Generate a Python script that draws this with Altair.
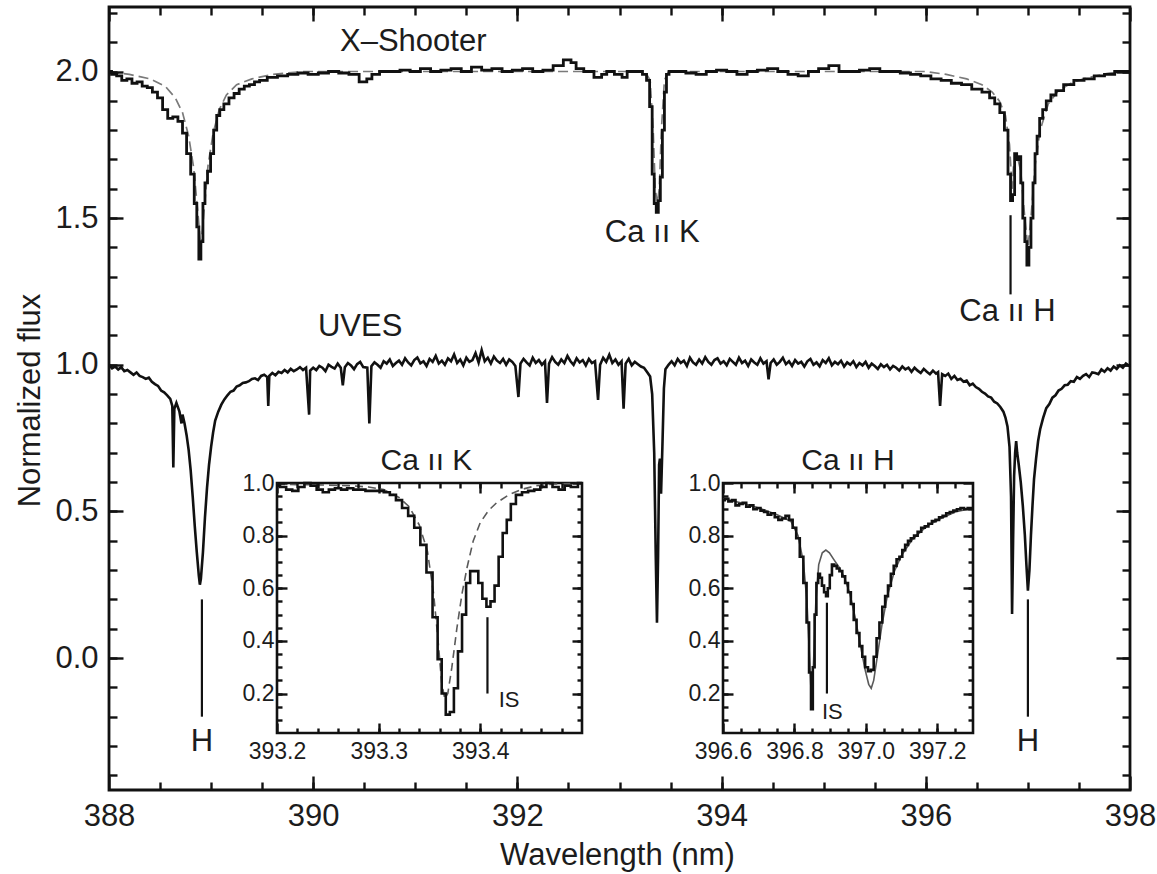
import altair as alt
import pandas as pd

FONT = "Liberation Sans"
INK = "#111111"

# ---------------- spectra (wavelength nm, normalized flux as plotted) ----------------
XSHOOTER = [
    (388.00, 2.00), (388.05, 1.99), (388.10, 1.985), (388.15, 1.97), (388.20, 1.975),
    (388.25, 1.96), (388.30, 1.965), (388.35, 1.95), (388.40, 1.945), (388.45, 1.93),
    (388.50, 1.91), (388.55, 1.87), (388.60, 1.84), (388.65, 1.845), (388.70, 1.83),
    (388.74, 1.79), (388.78, 1.72), (388.82, 1.65), (388.85, 1.55), (388.87, 1.47),
    (388.89, 1.36), (388.91, 1.42), (388.93, 1.55), (388.95, 1.62), (388.98, 1.66),
    (389.01, 1.72), (389.04, 1.80), (389.07, 1.85), (389.10, 1.87), (389.15, 1.89),
    (389.20, 1.91), (389.25, 1.925), (389.30, 1.94), (389.35, 1.95), (389.40, 1.955),
    (389.45, 1.965), (389.50, 1.97), (389.60, 1.98), (389.70, 1.985), (389.80, 1.99),
    (389.90, 1.995), (390.00, 1.99), (390.10, 1.995), (390.20, 2.00), (390.30, 1.995),
    (390.40, 1.99), (390.50, 1.965), (390.55, 1.975), (390.60, 1.99), (390.70, 2.00),
    (390.80, 2.00), (390.90, 2.005), (391.00, 2.00), (391.10, 2.01), (391.20, 2.00),
    (391.30, 2.005), (391.40, 2.01), (391.50, 2.00), (391.60, 2.015), (391.70, 2.005),
    (391.80, 2.01), (391.90, 2.00), (392.00, 2.005), (392.10, 2.01), (392.20, 2.00),
    (392.30, 2.005), (392.40, 2.02), (392.50, 2.04), (392.55, 2.03), (392.60, 2.01),
    (392.70, 2.00), (392.80, 1.98), (392.85, 1.99), (392.90, 2.00), (393.00, 1.99),
    (393.05, 1.98), (393.10, 2.00), (393.15, 2.00), (393.20, 2.00), (393.25, 1.99),
    (393.28, 1.97), (393.31, 1.88), (393.33, 1.65), (393.35, 1.55), (393.37, 1.52),
    (393.39, 1.56), (393.41, 1.64), (393.43, 1.80), (393.45, 1.93), (393.47, 1.99),
    (393.50, 2.00), (393.60, 2.00), (393.70, 1.995), (393.80, 1.99), (393.90, 2.00),
    (394.00, 2.005), (394.10, 2.00), (394.20, 1.99), (394.30, 2.00), (394.40, 2.005),
    (394.50, 2.01), (394.60, 2.00), (394.70, 1.99), (394.80, 1.985), (394.90, 2.00),
    (395.00, 2.01), (395.10, 2.02), (395.20, 2.00), (395.30, 2.00), (395.40, 2.005),
    (395.50, 2.01), (395.60, 2.00), (395.70, 2.00), (395.80, 1.995), (395.90, 1.99),
    (396.00, 1.985), (396.10, 1.975), (396.20, 1.97), (396.30, 1.96), (396.40, 1.955),
    (396.50, 1.94), (396.60, 1.93), (396.65, 1.91), (396.70, 1.89), (396.75, 1.86),
    (396.79, 1.80), (396.82, 1.65), (396.84, 1.56), (396.86, 1.58), (396.88, 1.72),
    (396.90, 1.70), (396.92, 1.71), (396.94, 1.62), (396.96, 1.50), (396.98, 1.42),
    (397.00, 1.34), (397.02, 1.40), (397.04, 1.50), (397.06, 1.62), (397.08, 1.72),
    (397.10, 1.78), (397.13, 1.84), (397.16, 1.87), (397.20, 1.90), (397.25, 1.92),
    (397.30, 1.935), (397.40, 1.955), (397.50, 1.97), (397.60, 1.975), (397.70, 1.985),
    (397.80, 1.99), (397.90, 2.00), (398.00, 2.00),
]

XSHOOTER_MODEL = [
    (388.00, 2.00), (388.20, 1.99), (388.40, 1.975), (388.55, 1.95), (388.65, 1.91),
    (388.72, 1.86), (388.78, 1.78), (388.83, 1.67), (388.87, 1.52), (388.90, 1.40),
    (388.93, 1.52), (388.97, 1.68), (389.02, 1.79), (389.08, 1.87), (389.15, 1.92),
    (389.25, 1.955), (389.40, 1.975), (389.60, 1.99), (389.90, 2.00), (393.25, 2.00),
    (393.30, 1.97), (393.33, 1.80), (393.35, 1.60), (393.37, 1.55), (393.39, 1.60),
    (393.41, 1.80), (393.44, 1.97), (393.48, 2.00), (396.00, 2.00), (396.20, 1.99),
    (396.40, 1.975), (396.55, 1.955), (396.65, 1.93), (396.72, 1.90), (396.78, 1.85),
    (396.82, 1.75), (396.845, 1.60), (396.86, 1.68), (396.89, 1.72), (396.93, 1.66),
    (396.97, 1.50), (397.00, 1.40), (397.03, 1.50), (397.07, 1.68), (397.12, 1.80),
    (397.20, 1.89), (397.30, 1.935), (397.45, 1.965), (397.60, 1.98), (397.80, 1.995),
    (398.00, 2.00),
]

UVES = [
    (388.00, 1.00), (388.03, 0.988), (388.06, 0.994), (388.09, 0.984), (388.12, 0.992),
    (388.15, 0.978), (388.18, 0.982), (388.21, 0.974), (388.24, 0.966), (388.27, 0.974),
    (388.30, 0.962), (388.33, 0.958), (388.36, 0.952), (388.39, 0.956), (388.42, 0.942),
    (388.45, 0.934), (388.48, 0.928), (388.51, 0.912), (388.54, 0.906), (388.57, 0.896),
    (388.60, 0.884), (388.62, 0.86), (388.63, 0.65), (388.64, 0.85), (388.66, 0.87),
    (388.69, 0.84), (388.71, 0.80), (388.72, 0.83), (388.74, 0.80), (388.76, 0.76),
    (388.78, 0.71), (388.80, 0.64), (388.82, 0.55), (388.84, 0.45), (388.86, 0.36),
    (388.88, 0.28), (388.89, 0.25), (388.90, 0.27), (388.92, 0.36), (388.94, 0.48),
    (388.96, 0.58), (388.98, 0.66), (389.00, 0.72), (389.02, 0.77), (389.04, 0.81),
    (389.07, 0.84), (389.10, 0.864), (389.13, 0.882), (389.16, 0.896), (389.19, 0.908),
    (389.22, 0.912), (389.25, 0.926), (389.28, 0.93), (389.31, 0.938), (389.34, 0.94),
    (389.37, 0.944), (389.40, 0.952), (389.43, 0.954), (389.46, 0.948), (389.49, 0.962),
    (389.52, 0.966), (389.55, 0.958), (389.56, 0.86), (389.57, 0.962), (389.60, 0.972),
    (389.63, 0.964), (389.66, 0.976), (389.69, 0.972), (389.72, 0.982), (389.75, 0.974),
    (389.78, 0.986), (389.81, 0.978), (389.84, 0.984), (389.87, 0.992), (389.90, 0.982),
    (389.93, 0.99), (389.96, 0.83), (389.97, 0.98), (390.00, 0.99), (390.03, 0.982),
    (390.06, 0.996), (390.09, 0.99), (390.12, 0.978), (390.15, 1.00), (390.18, 0.993),
    (390.21, 0.987), (390.24, 1.004), (390.27, 0.99), (390.29, 0.93), (390.31, 0.992),
    (390.34, 1.006), (390.37, 0.998), (390.40, 0.985), (390.43, 1.002), (390.46, 1.01),
    (390.49, 0.992), (390.53, 0.99), (390.55, 0.80), (390.57, 0.995), (390.60, 1.008),
    (390.63, 1.00), (390.66, 0.99), (390.69, 1.012), (390.72, 1.004), (390.75, 1.018),
    (390.78, 0.996), (390.81, 1.006), (390.84, 1.014), (390.87, 1.00), (390.90, 1.022),
    (390.93, 1.008), (390.96, 0.998), (390.99, 1.016), (391.02, 1.025), (391.05, 1.005),
    (391.08, 1.012), (391.11, 0.996), (391.14, 1.02), (391.17, 1.01), (391.20, 1.03),
    (391.23, 1.004), (391.26, 1.014), (391.29, 1.00), (391.32, 1.022), (391.35, 1.012),
    (391.38, 1.035), (391.41, 1.006), (391.44, 1.018), (391.47, 0.998), (391.50, 1.024),
    (391.53, 1.01), (391.56, 1.016), (391.59, 1.04), (391.62, 1.008), (391.65, 1.05),
    (391.68, 1.012), (391.71, 1.024), (391.74, 1.004), (391.77, 1.028), (391.80, 1.014),
    (391.83, 1.006), (391.86, 1.02), (391.89, 1.00), (391.92, 1.018), (391.95, 1.01),
    (391.98, 0.996), (392.01, 0.89), (392.03, 1.004), (392.06, 1.02), (392.09, 1.008),
    (392.12, 0.998), (392.15, 1.024), (392.18, 1.006), (392.21, 1.016), (392.24, 1.00),
    (392.27, 1.012), (392.29, 0.87), (392.31, 1.004), (392.34, 1.026), (392.37, 1.01),
    (392.40, 1.00), (392.43, 1.018), (392.46, 1.006), (392.49, 1.03), (392.52, 1.012),
    (392.55, 1.00), (392.58, 1.022), (392.61, 1.008), (392.64, 1.016), (392.67, 0.998),
    (392.70, 1.02), (392.73, 1.006), (392.76, 1.012), (392.79, 0.88), (392.81, 1.00),
    (392.84, 1.024), (392.87, 1.01), (392.90, 1.034), (392.93, 1.006), (392.96, 1.018),
    (392.99, 1.00), (393.02, 1.012), (393.04, 0.85), (393.06, 1.004), (393.09, 1.02),
    (393.12, 0.998), (393.15, 1.01), (393.18, 1.002), (393.21, 0.994), (393.24, 0.99),
    (393.27, 0.975), (393.30, 0.96), (393.32, 0.90), (393.34, 0.70), (393.355, 0.35),
    (393.367, 0.12), (393.378, 0.35), (393.388, 0.66), (393.396, 0.68), (393.407, 0.56),
    (393.42, 0.72), (393.435, 0.92), (393.45, 0.985), (393.48, 1.00), (393.51, 1.012),
    (393.54, 0.998), (393.57, 1.02), (393.60, 1.006), (393.63, 1.014), (393.66, 0.996),
    (393.69, 1.024), (393.72, 1.008), (393.75, 1.00), (393.78, 1.018), (393.81, 1.004),
    (393.84, 1.026), (393.87, 1.01), (393.90, 1.00), (393.93, 1.016), (393.96, 1.022),
    (393.99, 1.004), (394.02, 1.012), (394.05, 0.998), (394.08, 1.02), (394.11, 1.01),
    (394.14, 1.00), (394.17, 1.024), (394.20, 1.006), (394.23, 1.014), (394.26, 0.996),
    (394.29, 1.018), (394.32, 1.008), (394.35, 1.00), (394.38, 1.022), (394.41, 1.004),
    (394.44, 1.012), (394.46, 0.95), (394.48, 1.006), (394.51, 1.018), (394.54, 1.00),
    (394.57, 1.01), (394.60, 1.024), (394.63, 1.002), (394.66, 1.012), (394.69, 0.996),
    (394.72, 1.016), (394.75, 1.004), (394.78, 1.01), (394.81, 0.994), (394.84, 1.012),
    (394.87, 1.02), (394.90, 1.00), (394.93, 1.008), (394.96, 0.995), (394.99, 1.016),
    (395.02, 1.006), (395.05, 1.022), (395.08, 0.998), (395.11, 1.01), (395.14, 1.002),
    (395.17, 1.014), (395.20, 0.994), (395.23, 1.008), (395.26, 1.00), (395.29, 1.012),
    (395.32, 0.992), (395.35, 1.006), (395.38, 0.998), (395.41, 1.01), (395.44, 0.99),
    (395.47, 1.004), (395.50, 0.996), (395.53, 0.986), (395.56, 1.002), (395.59, 0.992),
    (395.62, 1.00), (395.65, 0.984), (395.68, 0.996), (395.71, 0.99), (395.74, 0.98),
    (395.77, 0.994), (395.80, 0.984), (395.83, 0.99), (395.86, 0.976), (395.89, 0.99),
    (395.92, 0.98), (395.95, 0.972), (395.98, 0.986), (396.01, 0.976), (396.04, 0.968),
    (396.07, 0.98), (396.10, 0.97), (396.12, 0.975), (396.14, 0.86), (396.16, 0.968),
    (396.19, 0.962), (396.22, 0.97), (396.25, 0.952), (396.28, 0.962), (396.31, 0.948),
    (396.34, 0.952), (396.37, 0.942), (396.40, 0.946), (396.43, 0.93), (396.46, 0.936),
    (396.49, 0.924), (396.52, 0.918), (396.55, 0.908), (396.58, 0.902), (396.61, 0.892),
    (396.64, 0.888), (396.67, 0.874), (396.70, 0.868), (396.73, 0.856), (396.76, 0.84),
    (396.78, 0.82), (396.80, 0.79), (396.82, 0.72), (396.835, 0.55), (396.845, 0.15),
    (396.855, 0.40), (396.865, 0.62), (396.875, 0.70), (396.885, 0.74), (396.895, 0.70),
    (396.91, 0.66), (396.93, 0.60), (396.95, 0.52), (396.97, 0.42), (396.985, 0.32),
    (397.00, 0.23), (397.015, 0.30), (397.03, 0.42), (397.045, 0.52), (397.06, 0.61),
    (397.08, 0.68), (397.10, 0.74), (397.12, 0.78), (397.15, 0.82), (397.18, 0.852),
    (397.21, 0.866), (397.24, 0.888), (397.27, 0.896), (397.30, 0.912), (397.33, 0.918),
    (397.36, 0.93), (397.39, 0.932), (397.42, 0.944), (397.45, 0.942), (397.48, 0.958),
    (397.51, 0.952), (397.54, 0.962), (397.57, 0.968), (397.60, 0.958), (397.63, 0.974),
    (397.66, 0.972), (397.69, 0.968), (397.72, 0.984), (397.75, 0.976), (397.78, 0.988),
    (397.81, 0.98), (397.84, 0.994), (397.87, 0.986), (397.90, 0.998), (397.93, 0.99),
    (397.96, 1.004), (398.00, 0.995),
]

CAK_OBS = [
    (393.200, 0.99), (393.206, 0.985), (393.212, 0.975), (393.218, 0.97), (393.224, 0.985),
    (393.230, 1.00), (393.236, 0.99), (393.242, 0.975), (393.248, 0.965), (393.254, 0.975),
    (393.260, 0.98), (393.266, 0.975), (393.272, 0.98), (393.278, 0.975), (393.284, 0.975),
    (393.290, 0.97), (393.296, 0.97), (393.302, 0.97), (393.308, 0.965), (393.314, 0.955),
    (393.320, 0.935), (393.326, 0.905), (393.332, 0.875), (393.338, 0.83), (393.344, 0.765),
    (393.350, 0.66), (393.356, 0.49), (393.360, 0.33), (393.364, 0.20), (393.368, 0.12),
    (393.372, 0.13), (393.376, 0.22), (393.380, 0.36), (393.384, 0.50), (393.388, 0.62),
    (393.392, 0.665), (393.396, 0.665), (393.400, 0.62), (393.404, 0.56), (393.408, 0.53),
    (393.412, 0.55), (393.416, 0.61), (393.420, 0.72), (393.424, 0.81), (393.428, 0.86),
    (393.432, 0.92), (393.438, 0.955), (393.444, 0.965), (393.450, 0.97), (393.456, 0.975),
    (393.462, 0.985), (393.468, 1.00), (393.474, 0.985), (393.480, 0.975), (393.486, 0.99),
    (393.492, 0.985), (393.500, 1.00),
]

CAK_MODEL = [
    (393.20, 0.995), (393.24, 0.993), (393.27, 0.99), (393.29, 0.985), (393.305, 0.975),
    (393.32, 0.945), (393.33, 0.91), (393.34, 0.84), (393.348, 0.74), (393.354, 0.58),
    (393.358, 0.42), (393.362, 0.24), (393.365, 0.18), (393.368, 0.20), (393.372, 0.30),
    (393.377, 0.45), (393.382, 0.58), (393.387, 0.68), (393.393, 0.78), (393.40, 0.85),
    (393.408, 0.895), (393.416, 0.925), (393.428, 0.955), (393.44, 0.975), (393.455, 0.99),
    (393.47, 0.995), (393.50, 1.00),
]

CAH_OBS = [
    (396.600, 0.935), (396.610, 0.94), (396.620, 0.93), (396.630, 0.935), (396.640, 0.915),
    (396.650, 0.92), (396.660, 0.925), (396.670, 0.91), (396.680, 0.915), (396.690, 0.90),
    (396.700, 0.905), (396.710, 0.895), (396.720, 0.89), (396.730, 0.88), (396.740, 0.885),
    (396.750, 0.87), (396.760, 0.86), (396.770, 0.865), (396.780, 0.875), (396.790, 0.86),
    (396.800, 0.83), (396.810, 0.79), (396.820, 0.72), (396.830, 0.62), (396.838, 0.47),
    (396.844, 0.28), (396.849, 0.14), (396.854, 0.30), (396.859, 0.50), (396.864, 0.62),
    (396.869, 0.655), (396.874, 0.64), (396.880, 0.61), (396.886, 0.585), (396.891, 0.57),
    (396.896, 0.60), (396.902, 0.65), (396.908, 0.69), (396.915, 0.685), (396.922, 0.675),
    (396.930, 0.665), (396.938, 0.645), (396.946, 0.62), (396.954, 0.585), (396.962, 0.54),
    (396.970, 0.48), (396.978, 0.43), (396.986, 0.38), (396.994, 0.34), (397.002, 0.30),
    (397.010, 0.285), (397.018, 0.29), (397.026, 0.34), (397.034, 0.41), (397.042, 0.47),
    (397.050, 0.53), (397.058, 0.57), (397.066, 0.61), (397.074, 0.655), (397.082, 0.685),
    (397.090, 0.71), (397.098, 0.72), (397.106, 0.745), (397.114, 0.765), (397.122, 0.78),
    (397.130, 0.79), (397.140, 0.80), (397.150, 0.815), (397.160, 0.83), (397.170, 0.835),
    (397.180, 0.845), (397.190, 0.855), (397.200, 0.86), (397.210, 0.87), (397.220, 0.875),
    (397.230, 0.885), (397.240, 0.89), (397.250, 0.895), (397.260, 0.90), (397.270, 0.905),
    (397.280, 0.90), (397.290, 0.905), (397.300, 0.905),
]

CAH_MODEL = [
    (396.60, 0.94), (396.65, 0.925), (396.70, 0.905), (396.75, 0.88), (396.79, 0.855),
    (396.81, 0.80), (396.825, 0.70), (396.835, 0.55), (396.843, 0.32), (396.848, 0.16),
    (396.853, 0.30), (396.86, 0.55), (396.868, 0.69), (396.878, 0.735), (396.888, 0.745),
    (396.898, 0.735), (396.91, 0.71), (396.925, 0.68), (396.94, 0.64), (396.955, 0.58),
    (396.97, 0.49), (396.985, 0.38), (396.998, 0.29), (397.008, 0.235), (397.015, 0.22),
    (397.022, 0.25), (397.032, 0.34), (397.045, 0.46), (397.06, 0.57), (397.08, 0.665),
    (397.10, 0.725), (397.13, 0.785), (397.17, 0.835), (397.21, 0.865), (397.25, 0.89),
    (397.30, 0.905),
]

# ---------------- axes: domains and tick values ----------------
X_DOMAIN = [388, 398]
Y_DOMAIN = [-0.45, 2.22]
X_MAJOR = [388, 390, 392, 394, 396, 398]
X_MINOR = [round(388 + 0.5 * i, 1) for i in range(1, 20)]
Y_MAJOR = [0.0, 0.5, 1.0, 1.5, 2.0]
Y_MINOR = [round(-0.4 + 0.1 * i, 1) for i in range(27)]

K_X_DOMAIN = [393.2, 393.5]
H_X_DOMAIN = [396.6, 397.3]
IN_Y_DOMAIN = [0.05, 1.0]
K_X_MAJOR = [393.2, 393.3, 393.4]
K_X_MINOR = [round(393.2 + 0.02 * i, 2) for i in range(1, 15)]
H_X_MAJOR = [396.6, 396.8, 397.0, 397.2]
H_X_MINOR = [round(396.6 + 0.05 * i, 2) for i in range(1, 14)]
IN_Y_MAJOR = [0.2, 0.4, 0.6, 0.8, 1.0]
IN_Y_MINOR = [round(0.05 * i, 2) for i in range(2, 20)]

# ---------------- annotations ----------------
MAIN_TEXT = ["X\u2013Shooter", "UVES", "Ca \u0131\u0131 K", "Ca \u0131\u0131 H", "H", "H"]
MAIN_TEXT_WL = [390.98, 390.46, 393.32, 396.80, 388.91, 397.00]
MAIN_TEXT_FLUX = [2.10, 1.13, 1.45, 1.18, -0.285, -0.285]
MARK_WL = [388.91, 397.00, 396.83]
MARK_TOP = [0.20, 0.20, 1.51]
MARK_BOTTOM = [-0.20, -0.20, 1.24]

K_TITLE = ("Ca \u0131\u0131 K", 393.347, 1.085)
H_TITLE = ("Ca \u0131\u0131 H", 396.95, 1.085)
K_IS = (393.407, 0.49, 0.20)
H_IS = (396.891, 0.545, 0.20)
K_IS_LABEL = ("IS", 393.418, 0.175)
H_IS_LABEL = ("IS", 396.906, 0.13)

# ---------------- geometry ----------------
W, H = 1021, 783
K_RANGE_X = [168, 473]
H_RANGE_X = [614, 864]
IN_RANGE_Y = [726, 476]

MAIN_FS = 31
IN_TICK_FS = 23
IN_TITLE_FS = 30
IS_FS = 22


def frame(pairs):
    return pd.DataFrame(pairs, columns=["wl", "flux"])


def axis(orient, values, size, offset, labels=False, **kw):
    d = dict(orient=orient, values=values, tickSize=size, offset=offset,
             labels=labels, domain=False, grid=False, ticks=True,
             tickColor=INK, tickWidth=2.4, zindex=1, title=None,
             labelFlush=False, labelOverlap=False, labelFont=FONT,
             labelColor="#1c1c1c")
    d.update(kw)
    return alt.Axis(**d)


sx = alt.Scale(domain=X_DOMAIN, nice=False, zero=False)
sy = alt.Scale(domain=Y_DOMAIN, nice=False, zero=False)

title_style = dict(titleFont=FONT, titleFontSize=MAIN_FS, titleFontWeight="normal",
                   titleColor="#1c1c1c", titleBaseline="middle", titleAlign="center")

xs_model = alt.Chart(frame(XSHOOTER_MODEL)).mark_line(
    color="#7a7a7a", strokeWidth=1.7, strokeDash=[10, 5]
).encode(
    x=alt.X("wl:Q", scale=sx, axis=axis("bottom", X_MINOR, 8, -8)),
    y=alt.Y("flux:Q", scale=sy, axis=axis("left", Y_MINOR, 8, -8)),
)

xs_obs = alt.Chart(frame(XSHOOTER)).mark_line(
    color=INK, strokeWidth=2.8, interpolate="step"
).encode(
    x=alt.X("wl:Q", scale=sx, axis=axis(
        "bottom", X_MAJOR, 14, -14, labels=True, format="d", labelFontSize=MAIN_FS,
        labelPadding=11, title="Wavelength (nm)", titleX=508, titleY=79, **title_style)),
    y=alt.Y("flux:Q", scale=sy, axis=axis(
        "left", Y_MAJOR, 14, -14, labels=True, format=".1f", labelFontSize=MAIN_FS,
        labelPadding=11, title="Normalized flux", titleX=-93, titleY=393, **title_style)),
)

uves = alt.Chart(frame(UVES)).mark_line(color=INK, strokeWidth=2.6).encode(
    x=alt.X("wl:Q", scale=sx, axis=axis("top", X_MAJOR, 14, -14)),
    y=alt.Y("flux:Q", scale=sy, axis=axis("right", Y_MAJOR, 14, -14)),
)

markers = alt.Chart(pd.DataFrame({"wl": MARK_WL, "top": MARK_TOP, "bottom": MARK_BOTTOM})).mark_rule(
    color=INK, strokeWidth=2.2
).encode(
    x=alt.X("wl:Q", scale=sx, axis=axis("top", X_MINOR, 8, -8)),
    y=alt.Y("top:Q", scale=sy, axis=axis("right", Y_MINOR, 8, -8)),
    y2="bottom:Q",
)

main_text = alt.Chart(pd.DataFrame({"text": MAIN_TEXT, "wl": MAIN_TEXT_WL, "flux": MAIN_TEXT_FLUX})).mark_text(
    font=FONT, fontSize=MAIN_FS, color="#1c1c1c", align="center", baseline="middle"
).encode(
    x=alt.X("wl:Q", scale=sx, axis=None),
    y=alt.Y("flux:Q", scale=sy, axis=None),
    text="text:N",
)

main = alt.layer(xs_model, xs_obs, uves, markers, main_text).resolve_axis(
    x="independent", y="independent")


def inset(xdom, xrange, xmajor, xminor, obs, model, model_dash, title, is_line, is_label, is_align):
    kx = alt.Scale(domain=xdom, range=xrange, nice=False, zero=False)
    ky = alt.Scale(domain=IN_Y_DOMAIN, range=IN_RANGE_Y, nice=False, zero=False)
    left_px, right_px = xrange
    top_px, bot_px = IN_RANGE_Y[1], IN_RANGE_Y[0]
    box = alt.Chart(pd.DataFrame({"x0": [xdom[0]], "x1": [xdom[1]],
                                  "y0": [IN_Y_DOMAIN[0]], "y1": [IN_Y_DOMAIN[1]]})).mark_rect(
        fill="white", stroke=INK, strokeWidth=2.6
    ).encode(
        x=alt.X("x0:Q", scale=kx, axis=axis(
            "bottom", xmajor, 10, bot_px - 10 - H, labels=True, format=".1f",
            labelFontSize=IN_TICK_FS, labelPadding=7)),
        x2="x1:Q",
        y=alt.Y("y0:Q", scale=ky, axis=axis(
            "left", IN_Y_MAJOR, 10, -(left_px + 10), labels=True, format=".1f",
            labelFontSize=IN_TICK_FS, labelPadding=3)),
        y2="y1:Q",
    )
    mod_kw = dict(color="#5a5a5a", strokeWidth=1.6)
    if model_dash:
        mod_kw["strokeDash"] = [8, 5]
    mod = alt.Chart(frame(model)).mark_line(**mod_kw).encode(
        x=alt.X("wl:Q", scale=kx, axis=axis("bottom", xminor, 5, bot_px - 5 - H)),
        y=alt.Y("flux:Q", scale=ky, axis=axis("left", IN_Y_MINOR, 5, -(left_px + 5))),
    )
    ob = alt.Chart(frame(obs)).mark_line(color=INK, strokeWidth=2.6, interpolate="step").encode(
        x=alt.X("wl:Q", scale=kx, axis=axis("top", xmajor, 10, -(top_px + 10))),
        y=alt.Y("flux:Q", scale=ky, axis=axis("right", IN_Y_MAJOR, 10, right_px - 10 - W)),
    )
    isr = alt.Chart(pd.DataFrame({"wl": [is_line[0]], "top": [is_line[1]], "bottom": [is_line[2]]})).mark_rule(
        color=INK, strokeWidth=2.2
    ).encode(
        x=alt.X("wl:Q", scale=kx, axis=axis("top", xminor, 5, -(top_px + 5))),
        y=alt.Y("top:Q", scale=ky, axis=axis("right", IN_Y_MINOR, 5, right_px - 5 - W)),
        y2="bottom:Q",
    )
    ttl = alt.Chart(pd.DataFrame({"text": [title[0]], "wl": [title[1]], "flux": [title[2]]})).mark_text(
        font=FONT, fontSize=IN_TITLE_FS, color="#1c1c1c", align="center", baseline="middle"
    ).encode(
        x=alt.X("wl:Q", scale=kx, axis=None),
        y=alt.Y("flux:Q", scale=ky, axis=None),
        text="text:N",
    )
    isl = alt.Chart(pd.DataFrame({"text": [is_label[0]], "wl": [is_label[1]], "flux": [is_label[2]]})).mark_text(
        font=FONT, fontSize=IS_FS, color="#1c1c1c", align=is_align, baseline="middle"
    ).encode(
        x=alt.X("wl:Q", scale=kx, axis=None),
        y=alt.Y("flux:Q", scale=ky, axis=None),
        text="text:N",
    )
    return alt.layer(box, mod, ob, isr, ttl, isl).resolve_axis(x="independent", y="independent")


k_inset = inset(K_X_DOMAIN, K_RANGE_X, K_X_MAJOR, K_X_MINOR, CAK_OBS, CAK_MODEL, True,
                K_TITLE, K_IS, K_IS_LABEL, "left")
h_inset = inset(H_X_DOMAIN, H_RANGE_X, H_X_MAJOR, H_X_MINOR, CAH_OBS, CAH_MODEL, False,
                H_TITLE, H_IS, H_IS_LABEL, "center")

chart = alt.layer(main, k_inset, h_inset).resolve_scale(
    x="independent", y="independent"
).resolve_axis(
    x="independent", y="independent"
).properties(
    width=W, height=H,
    autosize=alt.AutoSizeParams(type="none"),
    padding={"left": 109, "top": 7, "right": 27, "bottom": 84},
    background="white",
).configure_view(stroke=INK, strokeWidth=2.8)

chart.save("out.html", embed_options={"renderer": "svg", "actions": False})
